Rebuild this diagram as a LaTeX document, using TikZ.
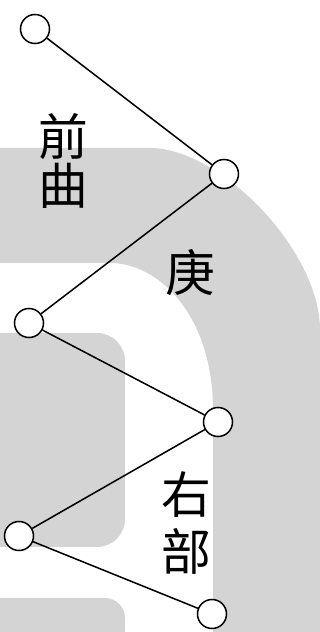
\documentclass[tikz,border=0pt]{standalone}
\usepackage{fontspec}
\newfontfamily\cjk{Noto Sans CJK TC}
\definecolor{wmgray}{gray}{0.83}

\begin{document}
\begin{tikzpicture}[x=1in,y=1in,
  ring/.style={circle, draw, line width=1.1pt, fill=white, minimum size=0.29in, inner sep=0pt},
  wire/.style={line width=1.1pt},
  glyph/.style={font={\cjk\fontsize{36}{36}\selectfont}, align=center, inner sep=0pt}]
\clip (0.0000,0.0000) rectangle (3.2000,6.3200);
% watermark behind the figure
\fill[wmgray] (0.0000,4.8400) -- (1.5000,4.8400)
  .. controls (2.2000,4.8400) and (3.2000,3.8200) .. (3.2000,3.0200)
  -- (3.4000,3.0200) -- (3.4000,-0.2000) -- (2.1300,-0.2000) -- (2.1300,2.2200)
  .. controls (2.1300,3.1500) and (1.6000,3.6900) .. (1.1000,3.6900)
  -- (0.0000,3.6900) -- cycle;
\fill[wmgray, rounded corners=0.28in] (-0.4000,0.8500) rectangle (1.2500,2.9900);
\fill[wmgray, rounded corners=0.2in] (-0.4000,-0.4000) rectangle (1.2500,0.3400);
% stations
\node[ring] (p1) at (0.3500,6.0300) {};
\node[ring] (p2) at (2.2400,4.5800) {};
\node[ring] (p3) at (0.2900,3.0900) {};
\node[ring] (p4) at (2.1800,2.1000) {};
\node[ring] (p5) at (0.1900,0.9600) {};
\node[ring] (p6) at (2.1200,0.1800) {};
\draw[wire] (p1) -- (p2);
\draw[wire] (p2) -- (p3);
\draw[wire] (p3) -- (p4);
\draw[wire] (p4) -- (p5);
\draw[wire] (p5) -- (p6);
% names
\node[glyph] (qianqu) at (0.6300,4.7100) {前\\曲};
\node[glyph] (geng) at (1.9000,3.5900) {庚};
\node[glyph] (youbu) at (1.8600,1.0900) {右\\[0.08in]部};
\end{tikzpicture}
\end{document}
